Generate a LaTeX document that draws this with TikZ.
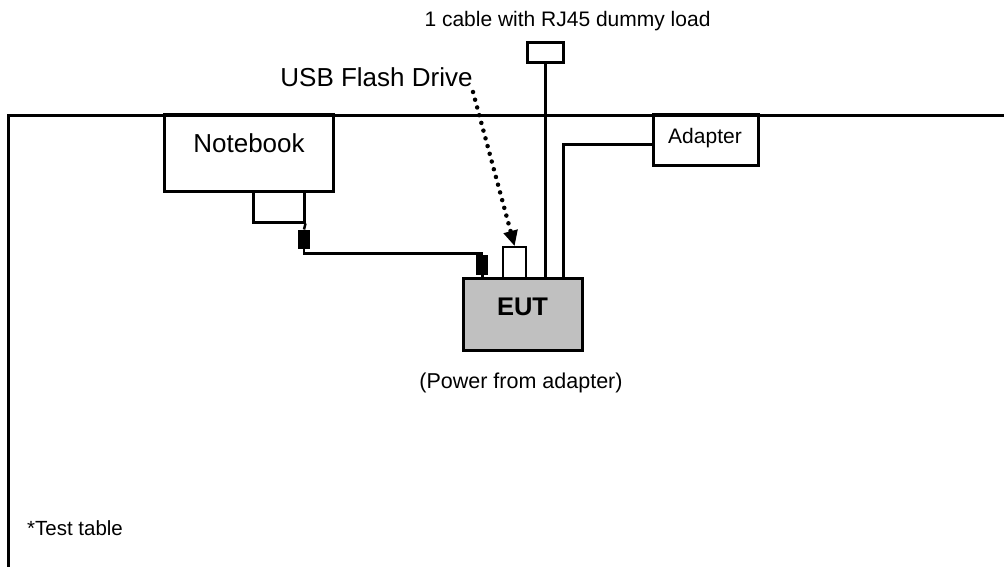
\documentclass[tikz,border=0pt]{standalone}
\usepackage{fontspec}
\setmainfont{Liberation Sans}
\usetikzlibrary{arrows.meta}
\definecolor{eutgray}{RGB}{192,192,192}
\begin{document}
\begin{tikzpicture}[x=1pt,y=-1pt,
  box/.style={draw, line width=3pt, inner sep=0pt, minimum width=#1},
  conn/.style={draw, fill=black, line width=1pt, inner sep=0pt, minimum width=11pt},
  cable/.style={line width=3pt},
  thin cable/.style={line width=2.5pt},
  lbl/.style={anchor=base, inner sep=0pt},
  usbarrow/.style={line width=4.5pt, line cap=round, dash pattern=on 0pt off 8pt, -{Triangle[length=15pt,width=15pt,line width=0pt]}}]
\useasboundingbox (0,0) rectangle (1004,567);
% test table
\draw[line width=3pt] (1004,116) -- (8,116) -- (8,570);
% boxes
\node[box=169pt, minimum height=76pt] (nb) at (248.5,153) {};
\node[box=51pt, minimum height=31pt] (port) at (278.5,206.5) {};
\node[box=105pt, minimum height=51pt] (adapter) at (705.5,140.5) {};
\node[box=36pt, minimum height=20pt] (dummy) at (545,53) {};
\node[box=119pt, minimum height=72pt, fill=eutgray] (eut) at (522.5,314) {};
\node[box=23pt, minimum height=31pt, line width=2.5pt] (usb) at (514.5,262.5) {};
\node[conn, minimum height=18pt] (conn1) at (304,239) {};
\node[conn, minimum height=19pt] (conn2) at (482,264.5) {};
% texts
\node[lbl, font=\fontsize{26}{30}\selectfont] (nbt) at (249,153) {Notebook};
\node[lbl, font=\fontsize{21}{25}\selectfont] (adt) at (705,144) {Adapter};
\node[lbl, font=\fontsize{25.5}{30}\selectfont\bfseries] (eutt) at (522.5,315) {EUT};
\node[lbl, font=\fontsize{21.5}{25}\selectfont] (pwr) at (521,388) {(Power from adapter)};
\node[lbl, font=\fontsize{21}{25}\selectfont] (rj) at (567.5,27) {1 cable with RJ45 dummy load};
\node[lbl, font=\fontsize{26}{30}\selectfont] (usbt) at (376.5,87) {USB Flash Drive};
\node[lbl, anchor=base west, font=\fontsize{20.5}{25}\selectfont] (tt) at (27,535) {*Test table};
% cables
\draw[thin cable] (port.south east) -- (conn1.north);
\draw[thin cable] (conn1.south) -- ++(0,5) -| (conn2.north);
\draw[cable] (conn2.south) -- (conn2.south |- eut.north);
\draw[cable] (dummy.south) -- (dummy.south |- eut.north);
\draw[cable] ([yshift=-4.5pt]adapter.west) -| ([xshift=40.5pt]eut.north);
\draw[usbarrow] (473,92) -- (usb.north);
\end{tikzpicture}
\end{document}
